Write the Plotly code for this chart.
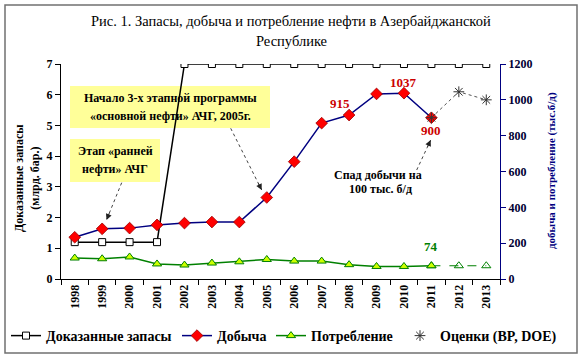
import plotly.graph_objects as go

years = [str(y) for y in range(1998, 2014)]
reserves = [1.2, 1.2, 1.2, 1.2, 7.0, 7.0, 7.0, 7.0, 7.0, 7.0, 7.0, 7.0, 7.0, 7.0, 7.0, 7.0]
prod_years = years[:14]
production = [233, 280, 284, 302, 312, 318, 318, 455, 655, 870, 915, 1033, 1037, 900]
cons_years = years[:14]
consumption = [117, 113, 123, 84, 78, 89, 96, 109, 100, 100, 80, 70, 70, 74]
cons_fc_years = ["2011", "2012", "2013"]
cons_fc = [74, 74, 74]
est_years = ["2011", "2012", "2013"]
estimates = [900, 1045, 1000]

W, H = 582, 361
L, R, T, B = 61, 500, 64, 279
SERIF = "Liberation Serif"


def px(x):
    return (x - L) / (R - L)


def py(y):
    return (B - y) / (B - T)


fig = go.Figure()

fig.add_trace(go.Scatter(
    x=years, y=reserves, name="<b>Доказанные запасы</b>", mode="lines+markers",
    line=dict(color="black", width=1.5),
    marker=dict(symbol="square", size=7, color="white", line=dict(color="black", width=1)),
    legend="legend", yaxis="y"))

fig.add_trace(go.Scatter(
    x=prod_years, y=production, name="<b>Добыча</b>", mode="lines+markers",
    line=dict(color="#000080", width=1.5),
    marker=dict(symbol="diamond", size=9, color="#ff0000", line=dict(color="#990000", width=0.8)),
    legend="legend2", yaxis="y2"))

fig.add_trace(go.Scatter(
    x=cons_fc_years, y=cons_fc, mode="lines+markers", showlegend=False,
    line=dict(color="#008000", width=1.2, dash="dash"),
    marker=dict(symbol="triangle-up-open", size=8, color="#008000"),
    yaxis="y2", hoverinfo="skip"))

fig.add_trace(go.Scatter(
    x=cons_years, y=consumption, name="<b>Потребление</b>", mode="lines+markers",
    line=dict(color="#008000", width=1.5),
    marker=dict(symbol="triangle-up", size=8, color="#ccff00", line=dict(color="#008000", width=1)),
    legend="legend3", yaxis="y2"))

fig.add_trace(go.Scatter(
    x=est_years, y=estimates, mode="lines", showlegend=False,
    line=dict(color="#555555", width=1, dash="dot"),
    yaxis="y2", hoverinfo="skip"))

fig.add_trace(go.Scatter(
    x=est_years, y=estimates, name="<b>Оценки (BP, DOE)</b>", mode="markers",
    marker=dict(symbol="asterisk-open", size=9, color="#333333", line=dict(color="#333333", width=1)),
    legend="legend4", yaxis="y2"))

legend_common = dict(orientation="h", yanchor="middle", y=py(336), xanchor="left",
                     font=dict(family=SERIF, size=14, color="black"),
                     bgcolor="rgba(0,0,0,0)", borderwidth=0)

shapes = [
    dict(type="rect", xref="paper", yref="paper", x0=px(5), x1=px(577), y0=py(353), y1=py(5),
         line=dict(color="#707070", width=1.5), layer="below"),
    dict(type="rect", xref="paper", yref="paper", x0=px(70), x1=px(270), y0=py(128), y1=py(86),
         fillcolor="#ffff99", line=dict(width=0), layer="below"),
    dict(type="rect", xref="paper", yref="paper", x0=px(70), x1=px(160), y0=py(182), y1=py(139),
         fillcolor="#ffff99", line=dict(width=0), layer="below"),
]

arrows = [((230.7, 128.3), (261.7, 190)), ((121.7, 182.7), (106.5, 220)), ((416.7, 170), (430.7, 140))]
annotations = []
for (tx, ty), (hx, hy) in arrows:
    shapes.append(dict(type="line", xref="paper", yref="paper", x0=px(tx), y0=py(ty), x1=px(hx), y1=py(hy),
                       line=dict(color="#444444", width=1, dash="dot")))
    dx, dy = tx - hx, ty - hy
    n = (dx * dx + dy * dy) ** 0.5
    annotations.append(dict(xref="paper", yref="paper", x=px(hx), y=py(hy), ax=dx / n * 9, ay=dy / n * 9,
                            text="", showarrow=True, arrowhead=2, arrowsize=1.2, arrowwidth=1,
                            arrowcolor="#222222"))


def txt(x, y, s, size=12, color="black", bold=True):
    annotations.append(dict(xref="paper", yref="paper", x=px(x), y=py(y), text=("<b>%s</b>" % s) if bold else s,
                            showarrow=False, xanchor="center", yanchor="middle",
                            font=dict(family=SERIF, size=size, color=color)))


txt(291, 21, "Рис. 1. Запасы, добыча и потребление нефти в Азербайджанской", size=14.5, bold=False)
txt(291, 41, "Республике", size=14.5, bold=False)
txt(170, 98, "Начало 3-х этапной программы")
txt(170, 116, "«основной нефти» АЧГ, 2005г.")
txt(115, 151, "Этап «ранней")
txt(115, 169, "нефти» АЧГ")
txt(378, 175, "Спад добычи на")
txt(380, 189, "100 тыс. б/д")

annotations.append(dict(xref="paper", yref="paper", x=px(27), y=py(178), xanchor="center", yanchor="middle",
                        text="<b>Доказанные запасы<br>(млрд. бар.)</b>", showarrow=False, textangle=-90,
                        font=dict(family=SERIF, size=12, color="black")))
annotations.append(dict(xref="paper", yref="paper", x=px(551), y=py(171), xanchor="center", yanchor="middle",
                        text="<b>добыча и потребление (тыс.б/д)</b>", showarrow=False, textangle=-90,
                        font=dict(family=SERIF, size=11, color="#000080")))

for yr, val, xs, ys, col in [("2008", 915, -9, 12, "#cc0000"), ("2010", 1037, 0, 11, "#cc0000"),
                             ("2011", 900, 0, -13, "#cc0000")]:
    annotations.append(dict(x=years.index(yr), y=val, xref="x", yref="y2", text="<b>%d</b>" % val,
                            showarrow=False, xshift=xs, yshift=ys, xanchor="center", yanchor="middle",
                            font=dict(family=SERIF, size=13, color=col)))
annotations.append(dict(x=years.index("2011"), y=consumption[-1], xref="x", yref="y2",
                        text="<b>%d</b>" % consumption[-1], showarrow=False, yshift=19,
                        xanchor="center", yanchor="middle",
                        font=dict(family=SERIF, size=13, color="#008000")))

tickfont = dict(family=SERIF, size=12, color="black")

fig.update_layout(
    width=W, height=H,
    margin=dict(l=L, r=W - R, t=T, b=H - B, autoexpand=False),
    paper_bgcolor="white", plot_bgcolor="white",
    font=dict(family=SERIF),
    xaxis=dict(type="category", categoryorder="array", categoryarray=years, tickson="boundaries",
               ticks="outside", ticklen=5, tickcolor="black", showline=True, linecolor="black", linewidth=1,
               showgrid=False, tickangle=-90, tickfont=tickfont, tickprefix="<b>", ticksuffix="</b>",
               range=[-0.5, 15.5]),
    yaxis=dict(range=[0, 7], dtick=1, ticks="outside", ticklen=5, tickcolor="black", showline=True,
               linecolor="black", linewidth=1, showgrid=False, zeroline=False, tickfont=tickfont,
               tickprefix="<b>", ticksuffix="</b>"),
    yaxis2=dict(range=[0, 1200], dtick=200, overlaying="y", side="right", ticks="outside", ticklen=5,
                tickcolor="#000080", showline=True, linecolor="#000080", linewidth=1, showgrid=False,
                zeroline=False, tickfont=dict(family=SERIF, size=12, color="#000033"),
                tickprefix="<b>", ticksuffix="</b>"),
    legend=dict(legend_common, x=px(6)),
    legend2=dict(legend_common, x=px(177)),
    legend3=dict(legend_common, x=px(271)),
    legend4=dict(legend_common, x=px(400)),
    shapes=shapes,
    annotations=annotations,
)

fig.write_html("out.html", config={"displayModeBar": False},
               post_script="document.body.style.margin='0';")
